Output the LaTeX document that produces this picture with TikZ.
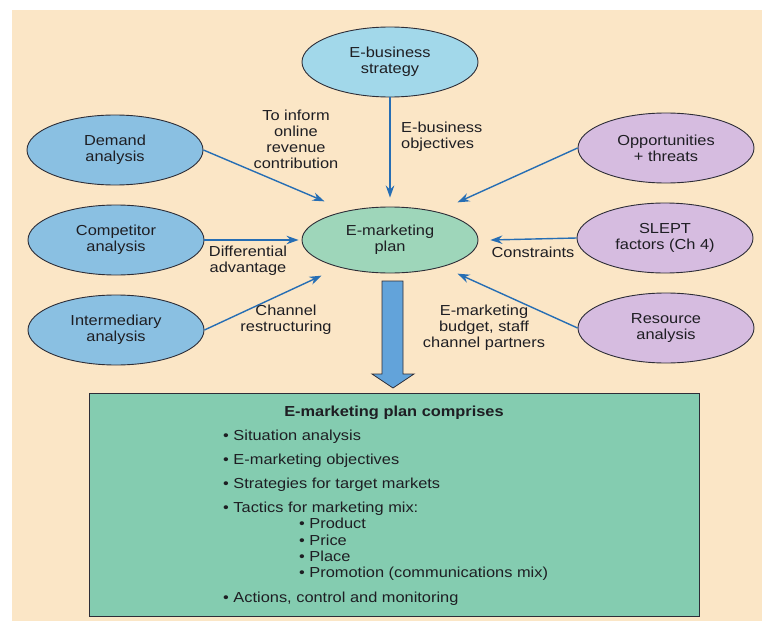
\documentclass[tikz,border=0pt]{standalone}
\usepackage{fontspec}
\setmainfont{Liberation Sans}[FakeStretch=1.13]
\usetikzlibrary{arrows.meta,shapes.geometric}

\definecolor{paper}{RGB}{251,230,198}
\definecolor{inkline}{RGB}{45,45,55}
\definecolor{txt}{RGB}{30,30,35}
\definecolor{skyfill}{RGB}{162,216,234}
\definecolor{bluefill}{RGB}{138,192,226}
\definecolor{mintfill}{RGB}{158,214,186}
\definecolor{lilacfill}{RGB}{214,188,224}
\definecolor{boxfill}{RGB}{132,204,176}
\definecolor{arrowblue}{RGB}{38,110,180}
\definecolor{bigarrow}{RGB}{98,163,218}

\tikzset{
  basefont/.style={font=\fontsize{14.5}{16}\selectfont, text=txt},
  oval/.style={ellipse, draw=inkline, line width=0.9pt, minimum width=176pt,
    minimum height=70pt, inner sep=0pt, align=center, basefont},
  flowlabel/.style={basefont, align=center, inner sep=0pt},
  flow/.style={draw=arrowblue, line width=1.4pt,
    -{Stealth[length=12pt,width=8.5pt]}},
  item/.style={basefont, anchor=base west, inner sep=0pt},
}

\begin{document}
\begin{tikzpicture}[x=1pt,y=-1pt]
  % page and paper
  \fill[white] (0,0) rectangle (762,623);
  \fill[paper] (12,10) rectangle (762,621);
  \useasboundingbox (0,0) rectangle (762,623);

  % ellipses
  \node[oval, fill=skyfill]   (ebiz) at (390,62)  {E-business\\strategy};
  \node[oval, fill=bluefill]  (dem)  at (115,150) {Demand\\analysis};
  \node[oval, fill=bluefill]  (comp) at (116,240) {Competitor\\analysis};
  \node[oval, fill=bluefill]  (inter) at (116,330) {Intermediary\\analysis};
  \node[oval, fill=mintfill, minimum height=66pt] (plan) at (390,240) {E-marketing\\plan};
  \node[oval, fill=lilacfill] (opp)  at (666,148) {Opportunities\\+ threats};
  \node[oval, fill=lilacfill] (slept) at (665,238) {SLEPT\\factors (Ch 4)};
  \node[oval, fill=lilacfill] (res)  at (666,328) {Resource\\analysis};

  % connectors into the plan
  \draw[flow] (ebiz.south) -- ([yshift=9pt]plan.north);
  \draw[flow] (dem.east) -- ([shift={(-3pt,15pt)}]plan.north west);
  \draw[flow] (comp.east) -- ([xshift=-3pt]plan.west);
  \draw[flow] (inter.east) -- ([shift={(-6pt,-12pt)}]plan.south west);
  \draw[flow] (opp.west) -- ([shift={(5pt,14pt)}]plan.north east);
  \draw[flow] (slept.west) -- ([xshift=12pt]plan.east);
  \draw[flow] (res.west) -- ([shift={(5pt,-10pt)}]plan.south east);

  % connector labels
  \node[flowlabel] (linform) at (296,139) {To inform\\online\\revenue\\contribution};
  \node[flowlabel, align=left, anchor=west] (lobj) at (401,137) {E-business\\objectives};
  \node[flowlabel] (ldiff) at (248,261) {Differential\\advantage};
  \node[flowlabel] (lchan) at (286,320) {Channel\\restructuring};
  \node[flowlabel] (lcons) at (533,252) {Constraints};
  \node[flowlabel] (lbud) at (484,328) {E-marketing\\budget, staff\\channel partners};

  % summary box
  \node[draw=inkline, line width=0.9pt, fill=boxfill, minimum width=610pt,
    minimum height=223.5pt, inner sep=0pt] (box) at (394,504.75) {};

  % block arrow from the plan down to the box
  \draw[draw=inkline, line width=0.8pt, fill=bigarrow, line join=miter]
    (382,281) -- (403,281) -- (403,374) -- (414,374) -- (393,388)
    -- (372,374) -- (382,374) -- cycle;

  % contents of the box
  \node[basefont, inner sep=0pt, anchor=base, font=\fontsize{14.5}{16}\selectfont\bfseries]
    (title) at (394,416) {E-marketing plan comprises};
  \node[item] (i1) at (223,440) {• Situation analysis};
  \node[item] (i2) at (223,464) {• E-marketing objectives};
  \node[item] (i3) at (223,488) {• Strategies for target markets};
  \node[item] (i4) at (223,512) {• Tactics for marketing mix:};
  \node[item] (s1) at (299,528) {• Product};
  \node[item] (s2) at (299,545) {• Price};
  \node[item] (s3) at (299,561) {• Place};
  \node[item] (s4) at (299,577) {• Promotion (communications mix)};
  \node[item] (i5) at (223,602) {• Actions, control and monitoring};
\end{tikzpicture}
\end{document}
